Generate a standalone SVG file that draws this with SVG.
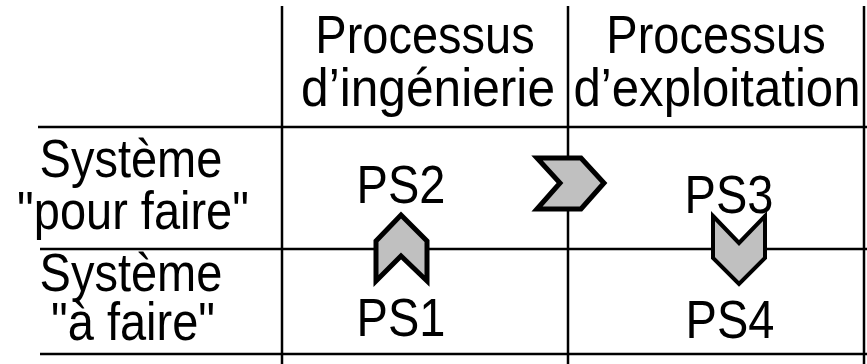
<svg xmlns="http://www.w3.org/2000/svg" width="867" height="364" viewBox="0 0 867 364">
<style>
.t{font-family:"Liberation Sans",Arial,sans-serif;font-size:47px;fill:#000;text-anchor:middle}
.g{stroke:#000;stroke-width:2.5;fill:none}
.ch{fill:#c0c0c0;stroke:#000;stroke-width:5;stroke-linejoin:miter}
</style>
<rect width="867" height="364" fill="#fff"/>
<g id="grid">
<line class="g" x1="282" y1="6" x2="282" y2="364"/>
<line class="g" x1="568" y1="6" x2="568" y2="364"/>
<line class="g" x1="864" y1="6" x2="864" y2="364"/>
<line class="g" x1="38" y1="127" x2="867" y2="127"/>
<line class="g" x1="40" y1="249" x2="867" y2="249"/>
<line class="g" x1="40" y1="354" x2="867" y2="354"/>
</g>
<g id="header-ingenierie">
<text class="t" transform="translate(425,53) scale(1,1.15)">Processus</text>
<text class="t" transform="translate(428,106) scale(1,1.15)" textLength="254" lengthAdjust="spacingAndGlyphs">d’ingénierie</text>
</g>
<g id="header-exploitation">
<text class="t" transform="translate(716,53) scale(1,1.15)">Processus</text>
<text class="t" transform="translate(717,106) scale(1,1.15)" textLength="287" lengthAdjust="spacingAndGlyphs">d’exploitation</text>
</g>
<g id="row-pour-faire">
<text class="t" transform="translate(131,177) scale(1,1.15)">Système</text>
<text class="t" transform="translate(133,229) scale(1,1.15)">"pour faire"</text>
</g>
<g id="row-a-faire">
<text class="t" transform="translate(131,291) scale(1,1.15)">Système</text>
<text class="t" transform="translate(133,340) scale(1,1.15)">"à faire"</text>
</g>
<g id="PS2"><text class="t" transform="translate(401,203) scale(1,1.15)">PS2</text></g>
<g id="PS1"><text class="t" transform="translate(401,336) scale(1,1.15)">PS1</text></g>
<g id="PS3"><text class="t" transform="translate(729,213) scale(1,1.15)">PS3</text></g>
<g id="PS4"><text class="t" transform="translate(730,338) scale(1,1.15)">PS4</text></g>
<g id="connectors">
<path class="ch" d="M537,158 L581,158 L604,183 L581,209 L537,209 L560,183 Z"/>
<path class="ch" d="M401,215 L427,241 L427,281 L401,256 L376,281 L376,241 Z"/>
<path class="ch" style="stroke-width:4" d="M713,216 L739,243 L765,216 L765,258 L739,284 L713,258 Z"/>
</g>
</svg>
